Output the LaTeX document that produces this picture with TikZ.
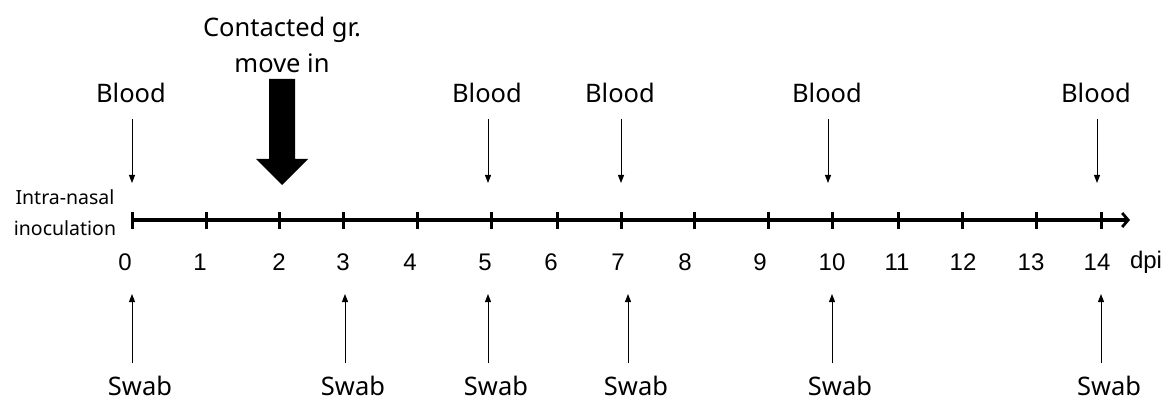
\documentclass[tikz,border=0pt]{standalone}
\usepackage{fontspec}
\setmainfont{Noto Sans}
\newfontfamily\numfont{Liberation Sans}
\usetikzlibrary{arrows.meta}
\begin{document}
\begin{tikzpicture}[x=1pt,y=-1pt,
  lbl/.style={font=\fontsize{25.5}{30}\selectfont, inner sep=0pt, anchor=center},
  small/.style={font=\fontsize{19.5}{23}\selectfont, inner sep=0pt},
  num/.style={font=\numfont\fontsize{24}{28}\selectfont, inner sep=0pt},
  thinarrow/.style={-{Triangle[length=8pt,width=6pt]}, line width=1pt},
  axisline/.style={line width=3.3pt, -{Straight Barb[length=6pt,width=14pt,line width=2.8pt]}},
  tickmark/.style={line width=3pt},
  bigarrow/.style={fill=black, draw=none}]
\useasboundingbox (0,0) rectangle (1169,403);

% time axis with one tick per day
\coordinate (axstart) at (132,220);
\coordinate (axend) at (1130,220);
\draw[axisline] (axstart) -- (axend);
\foreach \d/\x/\nx in {0/132/125,1/206/200,2/279/279,3/343/343,4/417/410,5/491/485,
                       6/557/551,7/621/618,8/694/685,9/768/760,10/832/832,11/898/897,
                       12/962/963,13/1036/1031,14/1101/1097}{
  \coordinate (t\d) at (\x,220);
  \draw[tickmark] (\x,212) -- (\x,229);
  \node[num] (n\d) at (\nx,262) {\d};
}
\node[num] (dpi) at (1146,262) {dpi};

% inoculation label
\node[small] (intra) at (65,197) {Intra-nasal};
\node[small] (inoc) at (65,228) {inoculation};

% blood sampling days
\foreach \d/\x in {0/132,5/488,7/621,10/828,14/1097}{
  \node[lbl] (blood\d) at (\x-1,93) {Blood};
  \coordinate (bs\d) at (\x,119);
  \coordinate (be\d) at (\x,183);
  \draw[thinarrow] (bs\d) -- (be\d);
}

% swab sampling days
\foreach \d/\x in {0/132,3/345,5/488,7/628,10/832,14/1101}{
  \node[lbl, anchor=base] (swab\d) at (\x+8,395) {Swab};
  \coordinate (ss\d) at (\x,363);
  \coordinate (se\d) at (\x,294);
  \draw[thinarrow] (ss\d) -- (se\d);
}

% contact group enters on day 2
\node[lbl] (contact) at (282,30) {Contacted gr.};
\node[lbl] (movein) at (282,63) {move in};
\fill[bigarrow] (269,79) -- (295,79) -- (295,159) -- (308,159) -- (282,185)
  -- (256,159) -- (269,159) -- cycle;
\end{tikzpicture}
\end{document}
